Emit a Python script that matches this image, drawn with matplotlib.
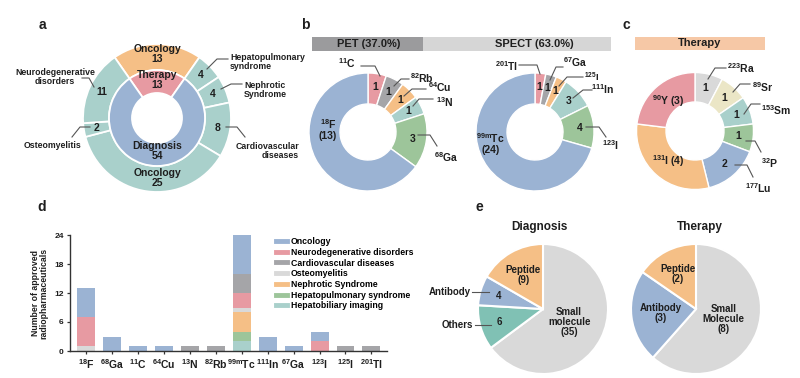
import numpy as np
import matplotlib
matplotlib.use('Agg')
import matplotlib.pyplot as plt
from matplotlib.patches import Rectangle
from matplotlib.lines import Line2D

plt.rcParams['font.family'] = 'Liberation Sans'
plt.rcParams['mathtext.fontset'] = 'custom'
plt.rcParams['mathtext.rm'] = 'Liberation Sans'
plt.rcParams['mathtext.bf'] = 'Liberation Sans:bold'
plt.rcParams['mathtext.it'] = 'Liberation Sans:italic'

# colours
blue = '#9bb3d3'
pink = '#e79aa2'
grey = '#a5a5a8'
lgrey = '#d9d9d9'
orange = '#f5bf86'
green = '#9dc59a'
teal = '#a9d0cb'
beige = '#ebe6c6'
teal_e = '#80c1b4'

# ---- data ----
# a: inner ring (Therapy, Diagnosis), outer ring by indication
a_inner_labels = ['Therapy', 'Diagnosis']
a_inner_vals = [13, 54]
a_outer_labels = ['Oncology', 'Hepatopulmonary\nsyndrome', 'Nephrotic\nSyndrome',
                  'Cardiovascular\ndiseases', 'Oncology', 'Osteomyelitis',
                  'Neurodegenerative\ndisorders']
a_outer_vals = [13, 4, 4, 8, 25, 2, 11]

# b: PET / SPECT isotopes
pet_iso = ['11C', '82Rb', '64Cu', '13N', '68Ga', '18F']
pet_vals = [1, 1, 1, 1, 3, 13]
spect_iso = ['201Tl', '67Ga', '125I', '111In', '123I', '99mTc']
spect_vals = [1, 1, 1, 3, 4, 24]

# c: therapy isotopes
ther_iso = ['223Ra', '89Sr', '153Sm', '32P', '177Lu', '131I', '90Y']
ther_vals = [1, 1, 1, 1, 2, 4, 3]

# d: stacked bars per isotope
d_iso = ['18F', '68Ga', '11C', '64Cu', '13N', '82Rb', '99mTc', '111In', '67Ga', '123I', '125I', '201Tl']
hepatobiliary = [0, 0, 0, 0, 0, 0, 2, 0, 0, 0, 0, 0]
hepatopulm = [0, 0, 0, 0, 0, 0, 2, 0, 0, 0, 0, 0]
nephrotic = [0, 0, 0, 0, 0, 0, 4, 0, 0, 0, 0, 0]
osteo = [1, 0, 0, 0, 0, 0, 1, 0, 0, 0, 0, 0]
neuro = [6, 0, 0, 0, 0, 0, 3, 0, 0, 2, 0, 0]
cardio = [0, 0, 0, 0, 1, 1, 4, 0, 0, 0, 1, 1]
oncology = [6, 3, 1, 1, 0, 0, 8, 3, 1, 2, 0, 0]

# e: molecule types
diag_types = ['Small\nmolecule', 'Others', 'Antibody', 'Peptide']
diag_vals = [35, 6, 4, 9]
thr_types = ['Small\nMolecule', 'Antibody', 'Peptide']
thr_vals = [8, 3, 2]

W, H = 800, 378
fig = plt.figure(figsize=(8, 3.78), dpi=100)
ax = fig.add_axes([0, 0, 1, 1])
ax.axis('off')

TXT = '#1e1e1e'
LINE = '#555555'


def Y(y):
    return H - y


def put(x, y, s, size=7, ha='center', **kw):
    ax.text(x, Y(y), s, ha=ha, va='center', fontsize=size, fontweight='bold',
            color=TXT, linespacing=1.0, **kw)


def lead(pts):
    ax.plot([p[0] for p in pts], [Y(p[1]) for p in pts], color=LINE, lw=0.8)


def iso(s):
    i = 0
    while s[i].isdigit() or (i > 0 and s[i] == 'm'):
        i += 1
    return r'$^{\mathbf{%s}}$%s' % (s[:i], s[i:])


def donut(vals, cols, cx, cy, r, width, start=90, lw=1.0):
    wedges, _ = ax.pie(vals, colors=cols, radius=r, center=(cx, Y(cy)),
                       startangle=start, counterclock=False, frame=True,
                       wedgeprops=dict(width=width, edgecolor='white', linewidth=lw))
    return wedges


def at_ang(cx, cy, rr, ang):
    a = np.deg2rad(ang)
    return cx + rr * np.cos(a), cy - rr * np.sin(a)


def at(w, cx, cy, rr):
    return at_ang(cx, cy, rr, (w.theta1 + w.theta2) / 2)


# ---------- a ----------
cx, cy, R = 157, 118, 74
start = 90 + a_inner_vals[0] / sum(a_inner_vals) * 180
outer = donut(a_outer_vals, [orange] + [teal] * 6, cx, cy, R, 26, start, lw=1.3)
inner = donut(a_inner_vals, [pink, blue], cx, cy, 48, 23, start, lw=1.3)

put(*at(outer[0], cx, cy, 64), '%s\n%d' % (a_outer_labels[0], a_outer_vals[0]), size=7.5)
put(*at(inner[0], cx, cy, 38), '%s\n%d' % (a_inner_labels[0], a_inner_vals[0]), size=7.5)
put(*at_ang(cx, cy, 33, -90), '%s\n%d' % (a_inner_labels[1], a_inner_vals[1]), size=7.5)
put(*at_ang(cx, cy, 60, -90), '%s\n%d' % (a_outer_labels[4], a_outer_vals[4]), size=7.5)

a_lead = {
    1: ([(207, 69), (217, 59), (228, 59)], (230, 62), 'left'),
    2: ([(221, 89), (231, 84), (242, 84)], (244, 90), 'left'),
    3: ([(226, 127), (237, 127), (245, 137)], (299, 151), 'right'),
    5: ([(90, 127), (80, 127), (72, 137)], (52, 146), 'center'),
    6: ([(94, 87), (89, 78), (82, 78)], (55, 77), 'center'),
}
for i, (pts, tp, ha) in a_lead.items():
    put(*at(outer[i], cx, cy, 61), str(a_outer_vals[i]), size=7.5)
    lead(pts)
    ax.text(tp[0], Y(tp[1]), a_outer_labels[i], ha=ha, va='center', fontsize=6.3,
            fontweight='bold', color=TXT, linespacing=1.0, multialignment=ha)

# ---------- b ----------
six = [pink, grey, orange, teal, green, blue]
tot = sum(pet_vals) + sum(spect_vals)
ax.add_patch(Rectangle((312, Y(51)), 111, 14, color='#9b9b9d', lw=0))
ax.add_patch(Rectangle((423, Y(51)), 188, 14, color='#d6d6d6', lw=0))
put(369, 44, 'PET (%.1f%%)' % (sum(pet_vals) / tot * 100), size=8)
put(534, 44, 'SPECT (%.1f%%)' % (sum(spect_vals) / tot * 100), size=8)

R = 59
pcx, pcy = 368, 132
wp = donut(pet_vals, six, pcx, pcy, R, 31)
for i in range(5):
    put(*at(wp[i], pcx, pcy, 0.77 * R), str(pet_vals[i]), size=7.5)
put(*at_ang(pcx, pcy, 0.68 * R, 176), iso(pet_iso[5]) + '\n(%d)' % pet_vals[5], size=7.5)
pet_lead = [
    ([(380, 76), (375, 66), (361, 66)], (347, 63)),
    ([(394, 86), (401, 79), (409, 79)], (422, 78)),
    ([(404, 96), (412, 89), (426, 89)], (440, 87)),
    ([(413, 106), (419, 99), (433, 99)], (445, 102)),
    ([(418, 135), (430, 135), (437, 146)], (446, 157)),
]
for i, (pts, tp) in enumerate(pet_lead):
    lead(pts)
    put(tp[0], tp[1], iso(pet_iso[i]), size=7.5)

scx, scy = 535, 132
ws = donut(spect_vals, six, scx, scy, R, 31)
for i in range(5):
    put(*at(ws[i], scx, scy, 0.77 * R), str(spect_vals[i]), size=7.5)
put(*at_ang(scx, scy, 0.78 * R, 194), iso(spect_iso[5]) + '\n(%d)' % spect_vals[5], size=7.5)
spect_lead = [
    ([(540, 74), (537, 65), (519, 65)], (507, 66), 7.5),
    ([(550, 80), (556, 67), (563, 67)], (575, 62), 7.5),
    ([(559, 86), (567, 77), (583, 77)], (592, 77), 6.8),
    ([(573, 98), (583, 90), (592, 90)], (603, 89), 7.5),
    ([(586, 127), (599, 127), (606, 137)], (610, 145), 7.5),
]
for i, (pts, tp, fs) in enumerate(spect_lead):
    lead(pts)
    put(tp[0], tp[1], iso(spect_iso[i]), size=fs)

# ---------- c ----------
ax.add_patch(Rectangle((635, Y(50)), 130, 13, color='#f6c8a6', lw=0))
put(700, 43.5, 'Therapy', size=8)
tcx, tcy, TR = 695, 131, 58.5
wt = donut(ther_vals, [lgrey, beige, teal, green, blue, orange, pink], tcx, tcy, TR, 29.5)
for i in range(5):
    put(*at(wt[i], tcx, tcy, 0.75 * TR), str(ther_vals[i]), size=7.5)
for i in (5, 6):
    put(*at(wt[i], tcx, tcy, 0.68 * TR), iso(ther_iso[i]) + ' (%d)' % ther_vals[i], size=7.5)
ther_lead = [
    ([(708, 79), (715, 68), (726, 68)], (741, 68)),
    ([(733, 92), (740, 84), (750, 84)], (763, 87)),
    ([(744, 114), (751, 104), (760, 104)], (776, 110)),
    ([(746, 141), (755, 141), (761, 152)], (770, 163)),
    ([(735, 165), (747, 165), (753, 177)], (758, 188)),
]
for i, (pts, tp) in enumerate(ther_lead):
    lead(pts)
    put(tp[0], tp[1], iso(ther_iso[i]), size=7.5)

# ---------- e ----------
ecx, ecy, ER = 543, 309, 65
wd, _ = ax.pie(diag_vals, colors=[lgrey, teal_e, blue, orange], radius=ER, center=(ecx, Y(ecy)),
               startangle=90, counterclock=False, frame=True,
               wedgeprops=dict(edgecolor='white', linewidth=1.5))
put(*at(wd[0], ecx, ecy, 0.45 * ER), '%s\n(%d)' % (diag_types[0], diag_vals[0]), size=7)
put(*at(wd[1], ecx, ecy, 0.7 * ER), str(diag_vals[1]), size=7)
put(*at(wd[2], ecx, ecy, 0.72 * ER), str(diag_vals[2]), size=7)
put(*at(wd[3], ecx, ecy, 0.6 * ER), '%s\n(%d)' % (diag_types[3], diag_vals[3]), size=7)
put(473, 325, diag_types[1], ha='right')
lead([(475, 325), (491, 325)])
put(471, 292, diag_types[2], ha='right')
lead([(472, 292), (489, 292)])

fcx, fcy = 696, 309
wf, _ = ax.pie(thr_vals, colors=[lgrey, blue, orange], radius=ER, center=(fcx, Y(fcy)),
               startangle=90, counterclock=False, frame=True,
               wedgeprops=dict(edgecolor='white', linewidth=1.5))
for w, s, v, rr in zip(wf, thr_types, thr_vals, [0.45, 0.55, 0.6]):
    put(*at(w, fcx, fcy, rr * ER), '%s\n(%d)' % (s, v), size=7)

put(539, 227, 'Diagnosis', size=8.5)
put(700, 227, 'Therapy', size=8.5)

# panel letters
for lx, ly, s in [(42, 25, 'a'), (305, 25, 'b'), (626, 25, 'c'), (42, 207, 'd'), (479, 207, 'e')]:
    put(lx, ly, s, size=10)

ax.set_xlim(0, W)
ax.set_ylim(0, H)
ax.set_aspect('auto')

# ---------- d ----------
axd = fig.add_axes([70 / W, 1 - 351 / H, 317 / W, 116 / H])
x = np.arange(len(d_iso))
stack = [('Hepatobiliary imaging', hepatobiliary, teal),
         ('Hepatopulmonary syndrome', hepatopulm, green),
         ('Nephrotic Syndrome', nephrotic, orange),
         ('Osteomyelitis', osteo, lgrey),
         ('Neurodegenerative disorders', neuro, pink),
         ('Cardiovascular diseases', cardio, grey),
         ('Oncology', oncology, blue)]
bottom = np.zeros(len(d_iso))
for name, vals, col in stack:
    vals = np.array(vals)
    axd.bar(x, vals, 0.69, bottom=bottom, color=col, linewidth=0)
    bottom += vals

axd.set_xlim(-0.62, 11.6)
axd.set_ylim(0, 24)
axd.set_yticks([0, 6, 12, 18, 24])
axd.set_xticks(x)
axd.set_xticklabels([iso(s) for s in d_iso], fontsize=7.5, fontweight='bold')
for t in axd.get_yticklabels():
    t.set_fontsize(6)
    t.set_fontweight('bold')
axd.tick_params(length=2.5, width=0.9, color='#333333', pad=2, labelcolor=TXT)
for s in ['top', 'right']:
    axd.spines[s].set_visible(False)
for s in ['left', 'bottom']:
    axd.spines[s].set_color('#333333')
    axd.spines[s].set_linewidth(1.0)
axd.set_ylabel('Number of approved\nradiopharmaceuticals', fontsize=6.3, fontweight='bold',
               color=TXT, labelpad=4, linespacing=1.0)

legend_order = ['Oncology', 'Neurodegenerative disorders', 'Cardiovascular diseases',
                'Osteomyelitis', 'Nephrotic Syndrome', 'Hepatopulmonary syndrome',
                'Hepatobiliary imaging']
col_of = {n: c for n, _, c in stack}
handles = [Line2D([0], [0], color=col_of[n], lw=3.5) for n in legend_order]
axd.legend(handles, legend_order, loc='upper left', bbox_to_anchor=(276 / W, 1 - 237 / H),
           bbox_transform=fig.transFigure, frameon=False, prop=dict(weight='bold', size=6.3),
           handlelength=1.2, handletextpad=0.5, labelspacing=0.2, borderpad=0, borderaxespad=0)

fig.savefig('out.png', dpi=100)
